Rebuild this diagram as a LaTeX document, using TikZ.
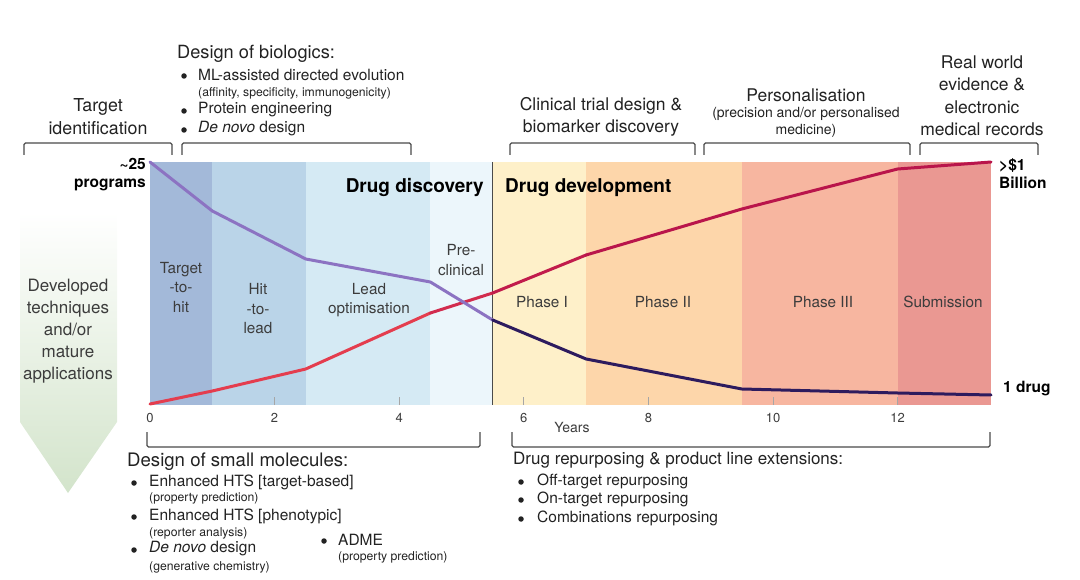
\documentclass[tikz,border=0pt]{standalone}
\usepackage{fontspec}
\setmainfont{TeX Gyre Heros}
\definecolor{bandA}{HTML}{A3B9D9}
\definecolor{bandB}{HTML}{BAD4E8}
\definecolor{bandC}{HTML}{D5EAF4}
\definecolor{bandD}{HTML}{ECF6FB}
\definecolor{bandE}{HTML}{FEF0C9}
\definecolor{bandF}{HTML}{FDD6AA}
\definecolor{bandG}{HTML}{F7B6A0}
\definecolor{bandH}{HTML}{EA9892}
\definecolor{txtc}{HTML}{222222}
\definecolor{lblc}{HTML}{3C3C3C}
\definecolor{brc}{HTML}{4A4A4A}
\definecolor{purp}{HTML}{8C73C2}
\definecolor{navy}{HTML}{2D1B5E}
\definecolor{redA}{HTML}{E43D4E}
\definecolor{redB}{HTML}{D22C4E}
\definecolor{redC}{HTML}{B9154B}
\definecolor{arrg}{HTML}{D3E4CB}
\newcommand\myfs[2]{\fontsize{#1}{#2}\selectfont}
\tikzset{
  hd/.style={font=\myfs{17.5}{22.5}, text=txtc, inner sep=0pt, align=center},
  bl/.style={font=\myfs{15.5}{18}, text=txtc, inner sep=0pt, anchor=west},
  sm/.style={font=\myfs{12.2}{14}, text=txtc, inner sep=0pt, anchor=west},
  bandlbl/.style={font=\myfs{15.3}{19.5}, text=lblc, inner sep=0pt, align=center},
  bigb/.style={font=\bfseries\myfs{19}{22}, text=black, inner sep=0pt},
  endlbl/.style={font=\bfseries\myfs{15.5}{18}, text=black, inner sep=0pt},
  ticklbl/.style={font=\myfs{13}{15}, text=lblc, inner sep=0pt},
  brk/.style={draw=brc, line width=1.1pt, rounded corners=1.5pt},
  curve/.style={line width=3pt, line join=round, line cap=round},
  bul/.style={circle, fill=txtc, inner sep=0pt, minimum size=5.5pt},
}
\begin{document}
\begin{tikzpicture}[x=1pt,y=-1pt]
\useasboundingbox (0,0) rectangle (1080,580);
% ---------- left arrow ----------
\shade[top color=white, bottom color=arrg] (20,212) -- (117,212) -- (117,422) -- (68,493) -- (20,422) -- cycle;
\node[hd, text=lblc, font=\myfs{17}{22}] (dev) at (68,331) {Developed\\techniques\\and/or\\mature\\applications};
% ---------- bands ----------
\fill[bandA] (150,162) rectangle (212.3,405);
\fill[bandB] (212.3,162) rectangle (305.75,405);
\fill[bandC] (305.75,162) rectangle (430.35,405);
\fill[bandD] (430.35,162) rectangle (492.65,405);
\fill[bandE] (492.65,162) rectangle (586.1,405);
\fill[bandF] (586.1,162) rectangle (741.85,405);
\fill[bandG] (741.85,162) rectangle (897.6,405);
\fill[bandH] (897.6,162) rectangle (991,405);
\draw[brc, line width=1pt] (492.65,162) -- (492.65,405);
% ticks
\foreach \xx in {274.6,399.2,523.8,648.4,773,897.6}
  \draw[black!35, line width=0.8pt] (\xx,405) -- (\xx,397);
% band labels
\node[bandlbl] (t2h) at (181,287) {Target\\-to-\\hit};
\node[bandlbl] (h2l) at (258,309) {Hit\\-to-\\lead};
\node[bandlbl] (lo) at (369,300) {Lead\\optimisation};
\node[bandlbl] (pc) at (461,260) {Pre-\\clinical};
\node[bandlbl] (p1) at (542,302) {Phase I};
\node[bandlbl] (p2) at (663,302) {Phase II};
\node[bandlbl] (p3) at (823,302) {Phase III};
\node[bandlbl] (sub) at (943,302) {Submission};
\node[bigb, anchor=east] (dd) at (484,188) {Drug discovery};
\node[bigb, anchor=west] (dv) at (505,188) {Drug development};
% ---------- curves ----------
\coordinate (a0) at (150,162);
\coordinate (a1) at (212.3,211);
\coordinate (a2) at (305.75,259);
\coordinate (a3) at (430.35,282);
\coordinate (a4) at (492.65,320);
\coordinate (a5) at (586.1,359);
\coordinate (a6) at (741.85,389);
\coordinate (a7) at (897.6,393);
\coordinate (a8) at (991,395);
\coordinate (r0) at (150,404);
\coordinate (r1) at (212.3,391);
\coordinate (r2) at (305.75,369);
\coordinate (r3) at (430.35,313);
\coordinate (r4) at (492.65,293);
\coordinate (r5) at (586.1,255);
\coordinate (r6) at (741.85,209);
\coordinate (r7) at (897.6,169);
\coordinate (r8) at (991,162);
\draw[curve, redA] (r0) -- (r1) -- (r2) -- (r3);
\draw[curve, redB] (r3) -- (r4);
\draw[curve, purp] (a0) -- (a1) -- (a2) -- (a3) -- (a4);
\draw[curve, navy] (a4) -- (a5) -- (a6) -- (a7) -- (a8);
\draw[curve, redC!70!redB] (r4) -- (r5);
\draw[curve, redC] (r5) -- (r6) -- (r7) -- (r8);
% ---------- axis labels ----------
\node[ticklbl] (x0) at (150,418) {0};
\node[ticklbl] (x2) at (274.6,418) {2};
\node[ticklbl] (x4) at (399.2,418) {4};
\node[ticklbl] (x6) at (523.8,418) {6};
\node[ticklbl] (x8) at (648.4,418) {8};
\node[ticklbl] (x10) at (773,418) {10};
\node[ticklbl] (x12) at (897.6,418) {12};
\node[ticklbl, font=\myfs{14}{16}] (yrs) at (572,428) {Years};
\node[endlbl, anchor=east, align=right] (prog) at (146,175) {\textasciitilde25\\programs};
\node[endlbl, anchor=west, align=left] (bil) at (999,174) {>\$1\\Billion};
\node[endlbl, anchor=west] (one) at (1003,389) {1 drug};
% ---------- top brackets ----------
\draw[brk] (24,155) -- (24,143) -- (172,143) -- (172,155);
\draw[brk] (182,155) -- (182,143) -- (411,143) -- (411,155);
\draw[brk] (510,155) -- (510,143) -- (695,143) -- (695,155);
\draw[brk] (704,155) -- (704,143) -- (910,143) -- (910,155);
\draw[brk] (920,155) -- (920,143) -- (1038,143) -- (1038,155);
\node[hd, font=\myfs{17.8}{23}] (tid) at (98,116.5) {Target\\identification};
\node[hd, anchor=west, font=\myfs{18.2}{20}] (bio) at (177,54) {Design of biologics:};
\node[bul] (b1) at (184,76) {};
\node[bl] (bt1) at (198,75) {ML-assisted directed evolution};
\node[sm] (bs1) at (198,93) {(affinity, specificity, immunogenicity)};
\node[bul] (b2) at (184,111) {};
\node[bl] (bt2) at (198,110) {Protein engineering};
\node[bul] (b3) at (184,130) {};
\node[bl] (bt3) at (198,129) {\textit{De novo} design};
\node[hd] (clin) at (601,117) {Clinical trial design \&\\biomarker discovery};
\node[hd] (pers) at (806,95) {Personalisation};
\node[hd, font=\myfs{14}{17}] (pers2) at (806,122.5) {(precision and/or personalised\\medicine)};
\node[hd] (rwe) at (982,96) {Real world\\evidence \&\\electronic\\medical records};
% ---------- bottom brackets ----------
\draw[brk] (147,432) -- (147,447) -- (480,447) -- (480,432);
\draw[brk] (512,432) -- (512,447) -- (990,447) -- (990,432);
\node[hd, anchor=west, font=\myfs{18.6}{20}] (sml) at (127,462) {Design of small molecules:};
\node[bul] (c1) at (134,483) {};
\node[bl] (ct1) at (149,482) {Enhanced HTS [target-based]};
\node[sm] (cs1) at (149,498) {(property prediction)};
\node[bul] (c2) at (134,517) {};
\node[bl] (ct2) at (149,516) {Enhanced HTS [phenotypic]};
\node[sm] (cs2) at (149,533) {(reporter analysis)};
\node[bul] (c3) at (134,550) {};
\node[bl] (ct3) at (149,549) {\textit{De novo} design};
\node[sm] (cs3) at (149,567) {(generative chemistry)};
\node[bul] (c4) at (324,541) {};
\node[bl] (ct4) at (338,540) {ADME};
\node[sm] (cs4) at (338,557) {(property prediction)};
\node[bl, font=\myfs{17}{18}] (rep) at (513,460) {Drug repurposing \& product line extensions:};
\node[bul] (d1) at (521,482) {};
\node[bl] (dt1) at (537,481) {Off-target repurposing};
\node[bul] (d2) at (521,500) {};
\node[bl] (dt2) at (537,499) {On-target repurposing};
\node[bul] (d3) at (521,519) {};
\node[bl] (dt3) at (537,518) {Combinations repurposing};
\end{tikzpicture}
\end{document}
